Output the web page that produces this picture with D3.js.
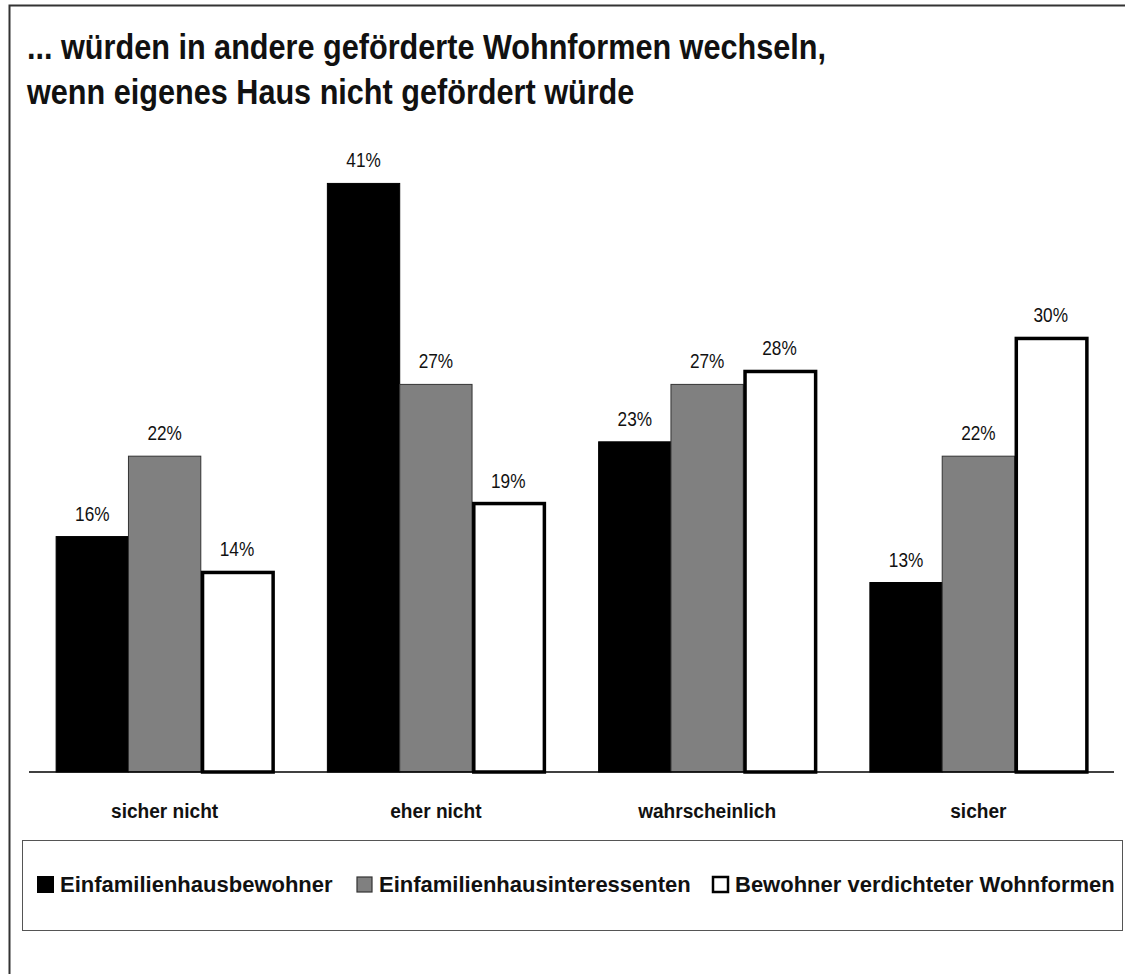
<!DOCTYPE html>
<html>
<head>
<meta charset="utf-8">
<script src="https://cdn.jsdelivr.net/npm/d3@7"></script>
<style>
body { margin: 0; background: #fff; }
text { font-family: "Liberation Sans", Arial, sans-serif; }
</style>
</head>
<body>
<svg id="chart"></svg>
<script>
// data
const categories = ["sicher nicht", "eher nicht", "wahrscheinlich", "sicher"];
const seriesNames = ["Einfamilienhausbewohner", "Einfamilienhausinteressenten", "Bewohner verdichteter Wohnformen"];
const einfamilienhausbewohner = [16.4, 41, 23, 13.2];
const einfamilienhausinteressenten = [22, 27, 27, 22];
const verdichtet = [13.9, 18.7, 27.9, 30.2];
const titleLines = ["... würden in andere geförderte Wohnformen wechseln,", "wenn eigenes Haus nicht gefördert würde"];

let width = 1125,
    height = 974,
    margins = {left: 29, right: 11, baseline: 772, top: 126};

const styles = [
    {fill: "#000", stroke: "#000", sw: 1},
    {fill: "#808080", stroke: "#333", sw: 1},
    {fill: "#fff", stroke: "#000", sw: 3.5}
];

const seriesValues = [einfamilienhausbewohner, einfamilienhausinteressenten, verdichtet];
const data = categories.map((c, i) => ({
    cat: c,
    vals: seriesNames.map((s, j) => ({series: s, idx: j, value: seriesValues[j][i]}))
}));

const svg = d3.select("#chart").attr("width", width).attr("height", height);

// no Arial Narrow installed, so Liberation Sans gets squeezed sideways
function place(x, y, sx) {
    return `translate(${x},${y}) scale(${sx},1)`;
}

// outer frame (only top and left visible)
svg.append("rect")
    .attr("x", 9.5).attr("y", 5.5)
    .attr("width", 1300).attr("height", 1300)
    .attr("fill", "none").attr("stroke", "#333").attr("stroke-width", 2);

svg.append("g").selectAll("text")
    .data(titleLines).enter()
    .append("text")
    .attr("transform", (d, i) => place(27, 59 + i * 45, 0.875))
    .attr("font-size", 35)
    .attr("font-weight", "bold")
    .attr("fill", "#111")
    .text(d => d);

const x0 = d3.scaleBand()
    .domain(categories)
    .range([margins.left, width - margins.right]);

const x1 = d3.scaleBand()
    .domain(seriesNames)
    .range([0, x0.bandwidth()])
    .paddingOuter(0.375);

const y = d3.scaleLinear()
    .domain([0, 45])
    .range([margins.baseline, margins.top]);

const groups = svg.append("g").selectAll("g")
    .data(data).enter()
    .append("g")
    .attr("transform", d => `translate(${x0(d.cat)},0)`);

groups.selectAll("rect")
    .data(d => d.vals).enter()
    .append("rect")
    .attr("x", d => x1(d.series) + (d.idx == 2 ? styles[2].sw / 2 : 0))
    .attr("y", d => y(d.value))
    .attr("width", d => x1.bandwidth() - (d.idx == 2 ? styles[2].sw / 2 : 0))
    .attr("height", d => y(0) - y(d.value))
    .attr("fill", d => styles[d.idx].fill)
    .attr("stroke", d => styles[d.idx].stroke)
    .attr("stroke-width", d => styles[d.idx].sw);

groups.selectAll("text.val")
    .data(d => d.vals).enter()
    .append("text")
    .attr("class", "val")
    .attr("transform", d => place(x1(d.series) + x1.bandwidth() / 2, y(d.value) - 16, 0.82))
    .attr("text-anchor", "middle")
    .attr("font-size", 21)
    .attr("fill", "#111")
    .text(d => Math.round(d.value) + "%");

// baseline
svg.append("line")
    .attr("x1", x0.range()[0]).attr("x2", x0.range()[1])
    .attr("y1", y(0)).attr("y2", y(0))
    .attr("stroke", "#000").attr("stroke-width", 1.5);

svg.append("g").selectAll("text")
    .data(categories).enter()
    .append("text")
    .attr("transform", d => place(x0(d) + x0.bandwidth() / 2, 818, 0.91))
    .attr("text-anchor", "middle")
    .attr("font-size", 21)
    .attr("font-weight", "bold")
    .attr("fill", "#111")
    .text(d => d);

// legend
svg.append("rect")
    .attr("x", 22.5).attr("y", 840.5)
    .attr("width", 1100).attr("height", 90)
    .attr("fill", "none").attr("stroke", "#555").attr("stroke-width", 1);

const legendX = [37, 356, 712];
const legend = svg.append("g").selectAll("g")
    .data(seriesNames).enter()
    .append("g")
    .attr("transform", (d, i) => `translate(${legendX[i]},876)`);

legend.append("rect")
    .attr("x", (d, i) => i == 0 ? 0 : 1)
    .attr("y", (d, i) => i == 0 ? 0 : 1)
    .attr("width", (d, i) => i == 0 ? 17 : 15)
    .attr("height", (d, i) => i == 0 ? 17 : 15)
    .attr("fill", (d, i) => styles[i].fill)
    .attr("stroke", (d, i) => i == 0 ? "none" : (i == 1 ? "#333" : "#000"))
    .attr("stroke-width", (d, i) => i == 2 ? 2.5 : 1.2);

legend.append("text")
    .attr("transform", place(23, 16, 1))
    .attr("font-size", 22)
    .attr("font-weight", "bold")
    .attr("fill", "#111")
    .text(d => d);
</script>
</body>
</html>
